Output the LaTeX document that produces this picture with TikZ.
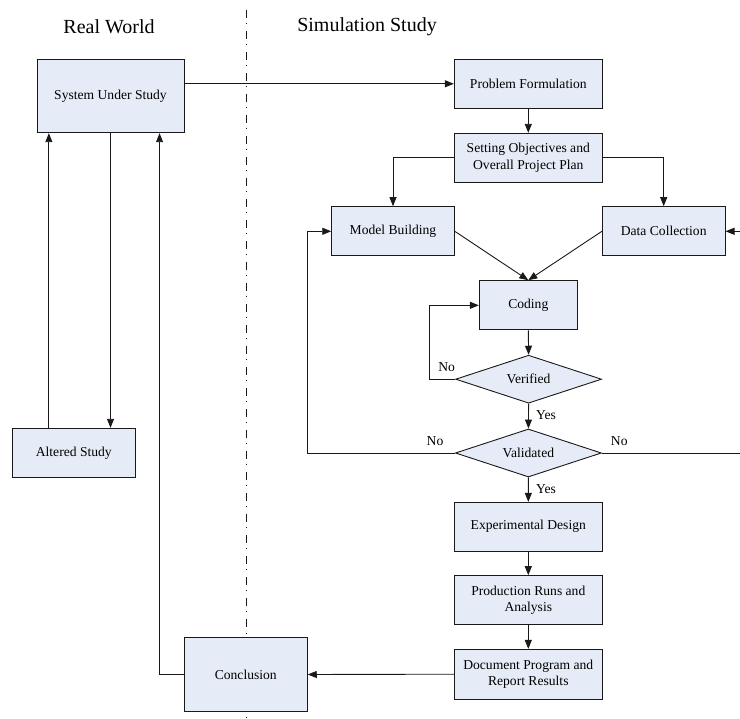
\documentclass[tikz,border=0pt]{standalone}
\usepackage{fontspec}
\setmainfont{Liberation Serif}
\usetikzlibrary{shapes.geometric,arrows.meta,calc}
\definecolor{boxfill}{RGB}{230,236,247}
\definecolor{inkline}{RGB}{25,25,25}
\tikzset{
  stepbox/.style={draw=inkline, line width=0.9pt, fill=boxfill, inner sep=2pt,
    align=center, font=\fontsize{13.6}{16.3}\selectfont},
  decide/.style={draw=inkline, line width=0.9pt, fill=boxfill, shape=diamond,
    aspect=3.05, inner sep=0pt, minimum width=146pt, minimum height=48pt,
    font=\fontsize{13.6}{16.3}\selectfont},
  arr/.style={draw=inkline, line width=0.9pt, -{Triangle[length=9pt,width=7pt]}},
  plain/.style={draw=inkline, line width=0.9pt},
  lbl/.style={font=\fontsize{13.6}{16.3}\selectfont, inner sep=0pt},
  head/.style={font=\fontsize{20}{24}\selectfont, inner sep=0pt},
}
\begin{document}
\begin{tikzpicture}[x=1pt, y=-1pt]
\useasboundingbox (0,0) rectangle (740,719);

% column headings
\node[head] (hreal) at (109,27) {Real World};
\node[head] (hsim)  at (367,27) {Simulation Study};

% divider between the two columns
\draw[inkline, line width=0.9pt, dash pattern=on 8pt off 5.5pt on 1pt off 6.5pt]
  (246,10) -- (246,719);

% real-world side
\node[stepbox, minimum width=147pt, minimum height=73.5pt] (sus) at (110.5,96) {System Under Study};
\node[stepbox, minimum width=123pt, minimum height=49.4pt] (altered) at (73.8,453) {Altered Study};
\node[stepbox, minimum width=123pt, minimum height=74.4pt] (concl) at (245.8,674.5) {Conclusion};

% simulation side
\node[stepbox, minimum width=148pt, minimum height=49pt] (prob) at (528.3,83.8) {Problem Formulation};
\node[stepbox, minimum width=148pt, minimum height=49pt] (obj) at (528.3,157.8) {Setting Objectives and\\Overall Project Plan};
\node[stepbox, minimum width=122.6pt, minimum height=49.3pt] (model) at (393,231.3) {Model Building};
\node[stepbox, minimum width=122.7pt, minimum height=49.3pt] (data) at (663.7,231.3) {Data Collection};
\node[stepbox, minimum width=98pt, minimum height=49.3pt] (coding) at (528.3,305.3) {Coding};
\node[decide] (verified) at (528.6,379.2) {Verified};
\node[decide] (validated) at (528.4,453) {Validated};
\node[stepbox, minimum width=148pt, minimum height=48.7pt] (exp) at (528.3,526.7) {Experimental Design};
\node[stepbox, minimum width=148pt, minimum height=48.7pt] (prod) at (528.3,600) {Production Runs and\\Analysis};
\node[stepbox, minimum width=148pt, minimum height=49.7pt] (doc) at (528.3,674.2) {Document Program and\\Report Results};

% attachment points on the bottom of the system box
\coordinate (upA) at ([xshift=12.3pt]sus.south west);
\coordinate (upC) at ([xshift=123pt]sus.south west);
\coordinate (rim) at (741,0);

% real-world connectors
\draw[arr] (altered.north -| upA) -- (upA);
\draw[arr] (sus.south) -- (sus.south |- altered.north);
\draw[arr] (concl.west) -| (upC);
\draw[arr] (sus.east |- prob.west) -- (prob.west);

% simulation connectors
\draw[arr] (prob.south) -- (obj.north);
\draw[arr] (obj.west) -| (model.north);
\draw[arr] (obj.east) -| (data.north);
\draw[arr] (model.east) -- (coding.north);
\draw[arr] (data.west) -- (coding.north);
\draw[arr] (coding.south) -- (verified.north);
\draw[arr] (verified.west) -- ++(-25.7,0) |- (coding.west);
\draw[arr] (verified.south) -- (validated.north);
\draw[arr] (validated.west) -- ++(-147.7,0) |- (model.west);
\draw[plain] (validated.east) -- (validated.east -| rim);
\draw[arr] (data.east -| rim) -- (data.east);
\draw[arr] (validated.south) -- (exp.north);
\draw[arr] (exp.south) -- (prod.north);
\draw[arr] (prod.south) -- (doc.north);
\draw[arr] (doc.west) -- (concl.east);

% branch labels
\node[lbl] (noV) at (446.7,367) {No};
\node[lbl] (yesV) at (546,415) {Yes};
\node[lbl] (noL) at (435,441) {No};
\node[lbl] (noR) at (619.3,441) {No};
\node[lbl] (yesL) at (546,489.3) {Yes};
\end{tikzpicture}
\end{document}
